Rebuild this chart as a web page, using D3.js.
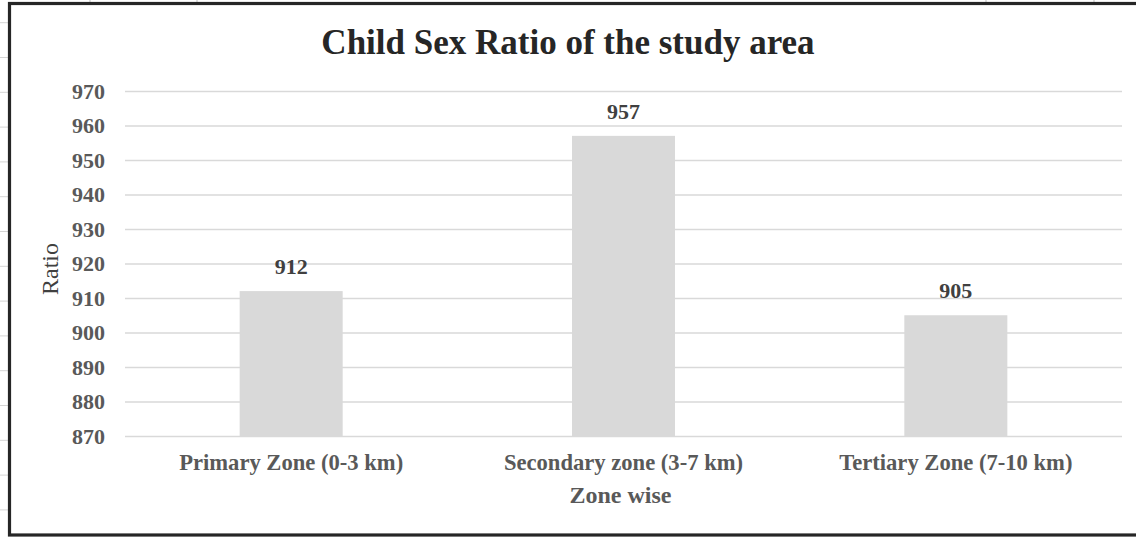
<!DOCTYPE html>
<html>
<head>
<meta charset="utf-8">
<script src="https://cdn.jsdelivr.net/npm/d3@7"></script>
<style>
  html, body { margin: 0; padding: 0; background: #ffffff; }
  svg { display: block; }
  text { font-family: "Liberation Serif", "Times New Roman", serif; }
</style>
</head>
<body>
<svg id="chart" width="1136" height="538"></svg>
<script>
// Child sex ratio by zone
const zones = ["Primary Zone (0-3 km)", "Secondary zone (3-7 km)", "Tertiary Zone (7-10 km)"];
const ratios = [912, 957, 905];
const yTicks = [870, 880, 890, 900, 910, 920, 930, 940, 950, 960, 970];
const chartTitle = "Child Sex Ratio of the study area";
const xTitle = "Zone wise";
const yTitle = "Ratio";

const svg = d3.select("#chart");

// spreadsheet cell borders peeking around the chart frame
const rowMarks = d3.range(0, 15).map(i => 22.7 + i * 34.8);
const colMarks = [90, 197, 986, 1094];
svg.append("g").selectAll("line").data(rowMarks).join("line")
  .attr("x1", 0).attr("x2", 8).attr("y1", d => d).attr("y2", d => d)
  .attr("stroke", "#d4d4d4").attr("stroke-width", 1);
svg.append("g").selectAll("line").data(colMarks).join("line")
  .attr("x1", d => d).attr("x2", d => d).attr("y1", 0).attr("y2", 2)
  .attr("stroke", "#bdbdbd").attr("stroke-width", 1);

// chart frame (right edge runs off the page)
svg.append("rect")
  .attr("x", 9.5).attr("y", 3.5).attr("width", 1140).attr("height", 531.5)
  .attr("fill", "#ffffff").attr("stroke", "#262626").attr("stroke-width", 3.2);

const plot = { left: 125, right: 1122, top: 91, bottom: 436 };

const y = d3.scaleLinear().domain([870, 970]).range([plot.bottom, plot.top]);
const x = d3.scaleBand().domain(zones).range([plot.left, plot.right])
  .paddingInner(0.69).paddingOuter(0.345);

// horizontal gridlines
const grid = svg.append("g").attr("transform", `translate(${plot.left},0)`)
  .call(d3.axisLeft(y).tickValues(yTicks).tickSize(-(plot.right - plot.left)).tickFormat(""));
grid.select(".domain").remove();
grid.selectAll(".tick line").attr("stroke", "#d9d9d9").attr("stroke-width", 1.5);

// bars
svg.append("g").selectAll("rect").data(zones).join("rect")
  .attr("x", d => x(d))
  .attr("width", x.bandwidth())
  .attr("y", (d, i) => y(ratios[i]))
  .attr("height", (d, i) => y(870) - y(ratios[i]))
  .attr("fill", "#d9d9d9");

// y axis tick labels
const yAxis = svg.append("g").attr("transform", `translate(${plot.left},0)`)
  .call(d3.axisLeft(y).tickValues(yTicks).tickSize(0).tickPadding(20).tickFormat(d3.format("d")));
yAxis.select(".domain").remove();
yAxis.selectAll("text")
  .attr("font-family", "Liberation Serif, serif")
  .attr("font-size", 22).attr("font-weight", "bold").attr("fill", "#595959")
  .attr("dy", "0.34em");

// x axis category labels
const xAxis = svg.append("g").attr("transform", `translate(0,${plot.bottom})`)
  .call(d3.axisBottom(x).tickSize(0).tickPadding(18));
xAxis.select(".domain").remove();
xAxis.selectAll("text")
  .attr("font-family", "Liberation Serif, serif")
  .attr("font-size", 22.6).attr("font-weight", "bold").attr("fill", "#595959");

// value labels
svg.append("g").selectAll("text").data(zones).join("text")
  .attr("x", d => x(d) + x.bandwidth() / 2)
  .attr("y", (d, i) => y(ratios[i]) - 17)
  .attr("text-anchor", "middle")
  .attr("font-size", 22).attr("font-weight", "bold").attr("fill", "#404040")
  .text((d, i) => ratios[i]);

// title
svg.append("text")
  .attr("x", 568).attr("y", 54)
  .attr("text-anchor", "middle")
  .attr("font-size", 35).attr("font-weight", "bold").attr("fill", "#262626")
  .text(chartTitle);

// axis titles
svg.append("text")
  .attr("x", (plot.left + plot.right) / 2 - 3).attr("y", 503)
  .attr("text-anchor", "middle")
  .attr("font-size", 24).attr("font-weight", "bold").attr("fill", "#595959")
  .text(xTitle);

svg.append("text")
  .attr("transform", "translate(58,269) rotate(-90)")
  .attr("text-anchor", "middle")
  .attr("font-size", 24).attr("fill", "#404040")
  .text(yTitle);
</script>
</body>
</html>
